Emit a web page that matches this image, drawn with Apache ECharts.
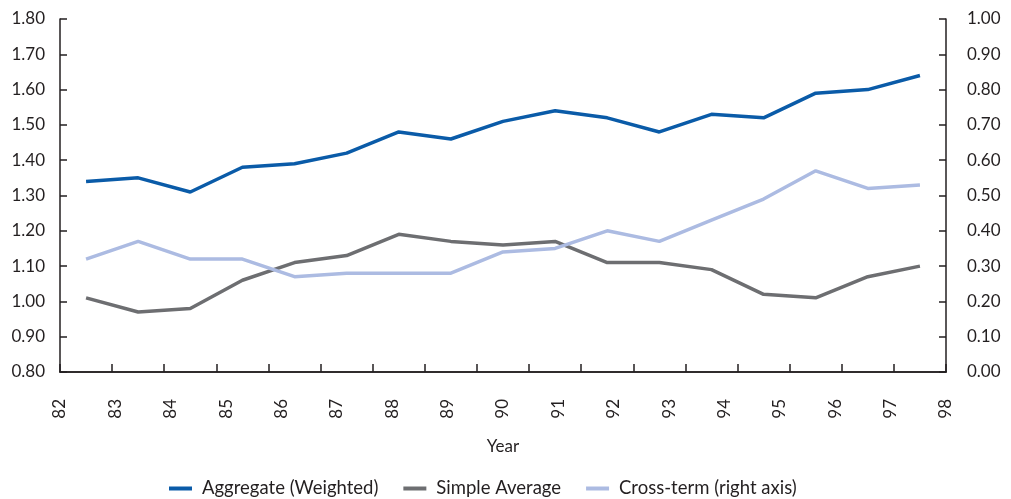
<!DOCTYPE html>
<html>
<head>
<meta charset="utf-8">
<script src="https://cdn.jsdelivr.net/npm/echarts@6/dist/echarts.min.js"></script>
<style>
  html, body { margin: 0; padding: 0; background: #fff; }
  #chart { width: 1011px; height: 499px; }
</style>
</head>
<body>
<div id="chart"></div>
<script>
// years, one point per year
var years = ['82', '83', '84', '85', '86', '87', '88', '89', '90', '91', '92', '93', '94', '95', '96', '97', '98'];
var aggregate = [1.34, 1.35, 1.31, 1.38, 1.39, 1.42, 1.48, 1.46, 1.51, 1.54, 1.52, 1.48, 1.53, 1.52, 1.59, 1.60, 1.64];
var simpleAvg = [1.01, 0.97, 0.98, 1.06, 1.11, 1.13, 1.19, 1.17, 1.16, 1.17, 1.11, 1.11, 1.09, 1.02, 1.01, 1.07, 1.10];
var crossTerm = [0.32, 0.37, 0.32, 0.32, 0.27, 0.28, 0.28, 0.28, 0.34, 0.35, 0.40, 0.37, 0.43, 0.49, 0.57, 0.52, 0.53];

var FONT = 'Lato';
var TXT = '#231f20';

var myChart = echarts.init(document.getElementById('chart'), null, { renderer: 'canvas' });
var option = {
  animation: false,
  backgroundColor: '#fff',
  textStyle: { fontFamily: FONT },
  grid: [
    { left: 60, right: 65, top: 19, bottom: 127, containLabel: false },
    // thin strip whose top edge sits on the baseline, only used for the upward year ticks
    { left: 60, right: 65, top: 372, height: 1, containLabel: false }
  ],
  legend: {
    left: 164,
    top: 474,
    itemWidth: 23,
    itemHeight: 4,
    itemGap: 25,
    icon: 'rect',
    textStyle: { fontFamily: FONT, fontSize: 18.5, color: TXT, padding: [0, 0, 0, 5] },
    data: ['Aggregate (Weighted)', 'Simple Average', 'Cross-term (right axis)']
  },
  xAxis: [
    {
      // data axis
      type: 'category',
      gridIndex: 0,
      data: years,
      boundaryGap: true,
      position: 'bottom',
      axisLine: { show: true, onZero: false, lineStyle: { color: TXT, width: 1.5 } },
      axisTick: { show: false },
      axisLabel: { show: false },
      splitLine: { show: false }
    },
    {
      // label axis: year labels spread edge to edge
      type: 'category',
      gridIndex: 0,
      data: years,
      boundaryGap: false,
      position: 'bottom',
      axisLine: { show: false, onZero: false },
      axisTick: { show: false },
      axisLabel: { rotate: 90, margin: 27, fontSize: 17, color: TXT, fontFamily: FONT, interval: 0 },
      splitLine: { show: false },
      name: 'Year',
      nameLocation: 'middle',
      nameGap: 66,
      nameTextStyle: { fontSize: 17, color: TXT, fontFamily: FONT }
    },
    {
      // tick axis: top of the strip grid, outward ticks point up into the plot
      type: 'category',
      gridIndex: 1,
      data: years,
      boundaryGap: true,
      position: 'top',
      axisLine: { show: true, onZero: false, lineStyle: { color: TXT, width: 1.5 } },
      axisTick: { show: true, interval: 0, inside: false, length: 8, lineStyle: { color: TXT, width: 1.5 } },
      axisLabel: { show: false },
      splitLine: { show: false }
    }
  ],
  yAxis: [
    {
      type: 'value',
      gridIndex: 0,
      min: 0.8,
      max: 1.8,
      interval: 0.1,
      position: 'left',
      axisLine: { show: true, lineStyle: { color: TXT, width: 1.5 } },
      axisTick: { show: true, inside: true, length: 7, lineStyle: { color: TXT, width: 1.5 } },
      axisLabel: { margin: 15, fontSize: 17, color: TXT, fontFamily: FONT, formatter: function (v) { return v.toFixed(2); } },
      splitLine: { show: false }
    },
    {
      type: 'value',
      gridIndex: 0,
      min: 0,
      max: 1,
      interval: 0.1,
      position: 'right',
      axisLine: { show: true, lineStyle: { color: TXT, width: 1.5 } },
      axisTick: { show: true, inside: true, length: 7, lineStyle: { color: TXT, width: 1.5 } },
      axisLabel: { margin: 21, fontSize: 17, color: TXT, fontFamily: FONT, formatter: function (v) { return v.toFixed(2); } },
      splitLine: { show: false }
    },
    {
      // hidden partner axis for the strip grid
      type: 'value',
      gridIndex: 1,
      show: false
    }
  ],
  series: [
    {
      name: 'Aggregate (Weighted)',
      type: 'line',
      xAxisIndex: 0,
      yAxisIndex: 0,
      data: aggregate,
      symbol: 'none',
      lineStyle: { color: '#0a5ba8', width: 3.5 },
      itemStyle: { color: '#0a5ba8' }
    },
    {
      name: 'Simple Average',
      type: 'line',
      xAxisIndex: 0,
      yAxisIndex: 0,
      data: simpleAvg,
      symbol: 'none',
      lineStyle: { color: '#6d6e71', width: 3.5 },
      itemStyle: { color: '#6d6e71' }
    },
    {
      name: 'Cross-term (right axis)',
      type: 'line',
      xAxisIndex: 0,
      yAxisIndex: 1,
      data: crossTerm,
      symbol: 'none',
      lineStyle: { color: '#acbbe2', width: 3.5 },
      itemStyle: { color: '#acbbe2' }
    }
  ]
};
option && myChart.setOption(option);
</script>
</body>
</html>
